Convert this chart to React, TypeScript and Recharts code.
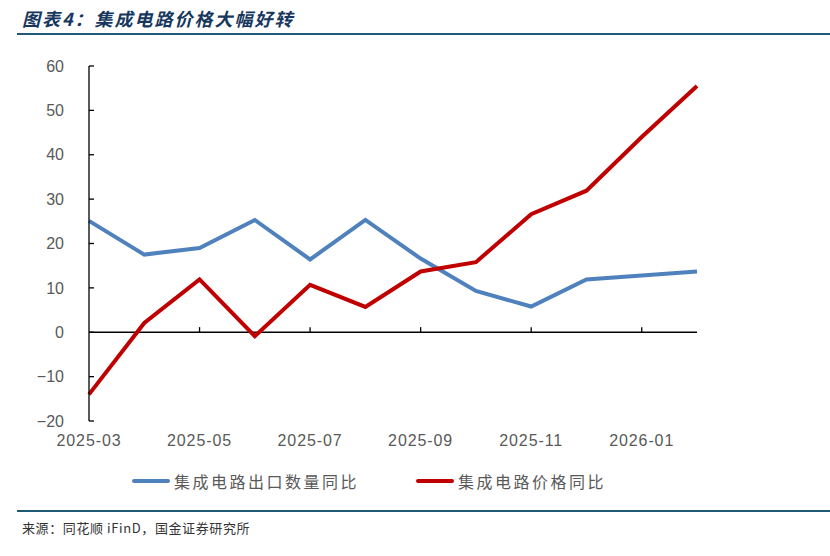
import React from 'react';
import { LineChart, Line, XAxis, YAxis, ReferenceLine } from 'recharts';

const months = ['2025-03','2025-04','2025-05','2025-06','2025-07','2025-08','2025-09','2025-10','2025-11','2025-12','2026-01','2026-02'];
const exportVolYoY = [25.1, 17.5, 19.0, 25.3, 16.4, 25.3, 16.6, 9.3, 5.8, 11.9, 12.8, 13.7];
const priceYoY = [-14.0, 2.1, 11.9, -0.9, 10.7, 5.7, 13.7, 15.8, 26.6, 31.9, 44.0, 55.5];
const yTicks = [-20, -10, 0, 10, 20, 30, 40, 50, 60];
const innerTickMonths = ['2025-05','2025-07','2025-09','2025-11','2026-01'];

const seriesNames = ['集成电路出口数量同比', '集成电路价格同比'];
const seriesColors = ['#4F81BD', '#C00000'];
const titleText = '图表4：集成电路价格大幅好转';
const sourceText = '来源：同花顺 iFinD，国金证券研究所';

const data = months.map((m, i) => ({ month: m, vol: exportVolYoY[i], price: priceYoY[i] }));

const cjk = '"Noto Sans CJK SC", "Liberation Sans", sans-serif';
const fmtY = (v: number) => String(v).replace('-', '\u2212');

export default function App() {
  return (
    <div style={{ position: 'absolute', left: 0, top: 0, width: 830, height: 556, background: '#fff', overflow: 'hidden' }}>
      <div style={{ position: 'absolute', left: 22, top: 6, fontFamily: cjk, fontSize: 18, fontWeight: 700, fontStyle: 'italic', color: '#17375E', letterSpacing: 2, lineHeight: '24px', whiteSpace: 'nowrap' }}>
        {titleText}
      </div>
      <div style={{ position: 'absolute', left: 17, top: 33, width: 813, height: 2, background: '#1F5A75' }} />

      <div style={{ position: 'absolute', left: 0, top: 0 }}>
        <LineChart width={830} height={556} data={data} margin={{ top: 66, right: 133, bottom: 105, left: 0 }}>
          <XAxis dataKey="month" interval={1} axisLine={false} tickLine={false} tickSize={6} tickMargin={8} height={30}
            tick={{ fill: '#595959', fontSize: 16, fontFamily: '"Liberation Sans", Arial, sans-serif', letterSpacing: 0.9 }} />
          <YAxis domain={[-20, 60]} ticks={yTicks} width={89} tickSize={-5} tickMargin={30} tickFormatter={fmtY}
            axisLine={{ stroke: '#000', strokeWidth: 1.3 }} tickLine={{ stroke: '#000', strokeWidth: 1.3 }}
            tick={{ fill: '#595959', fontSize: 16, fontFamily: '"Liberation Sans", Arial, sans-serif' }} />
          <ReferenceLine y={0} stroke="#000" strokeWidth={1.3} />
          {innerTickMonths.map((m) => (
            <ReferenceLine key={m} segment={[{ x: m, y: 0 }, { x: m, y: 1.15 }]} stroke="#000" strokeWidth={1.3} />
          ))}
          <Line type="linear" dataKey="vol" name={seriesNames[0]} stroke={seriesColors[0]} strokeWidth={4} dot={false} isAnimationActive={false} />
          <Line type="linear" dataKey="price" name={seriesNames[1]} stroke={seriesColors[1]} strokeWidth={4} dot={false} isAnimationActive={false} />
        </LineChart>
      </div>

      {seriesNames.map((n, i) => (
        <div key={n} style={{ position: 'absolute', left: i === 0 ? 132 : 416, top: 469, height: 24, display: 'flex', alignItems: 'center', whiteSpace: 'nowrap' }}>
          <div style={{ width: 38, height: 4, background: seriesColors[i], borderRadius: 2 }} />
          <span style={{ marginLeft: 4, fontFamily: cjk, fontSize: 16, color: '#595959', letterSpacing: 2.5 }}>{n}</span>
        </div>
      ))}

      <div style={{ position: 'absolute', left: 17, top: 510, width: 813, height: 2, background: '#1F5A75' }} />
      <div style={{ position: 'absolute', left: 22, top: 519, fontFamily: cjk, fontSize: 13, color: '#333', letterSpacing: 0.6, lineHeight: '18px', whiteSpace: 'nowrap' }}>
        {sourceText}
      </div>
    </div>
  );
}
